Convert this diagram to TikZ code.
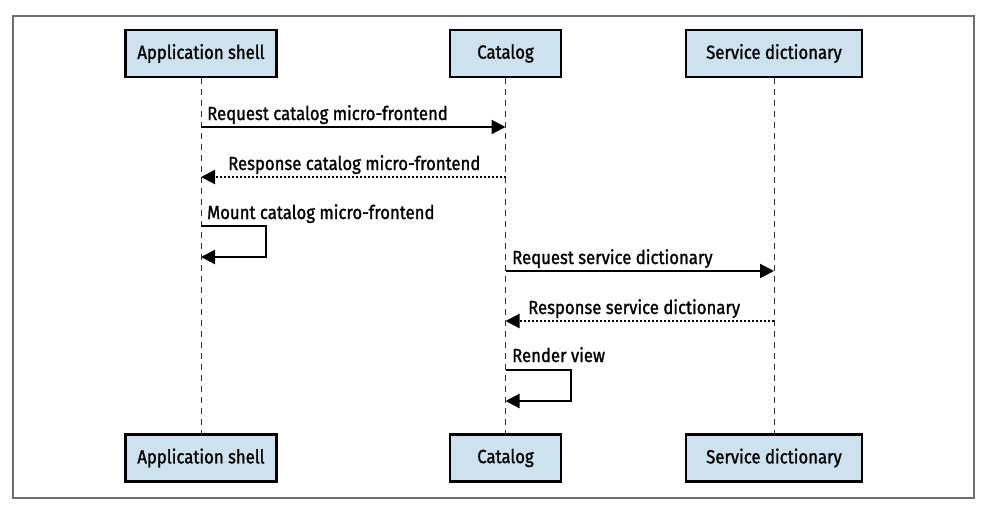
\documentclass[tikz,border=0pt]{standalone}
\usepackage{fontspec}
\setmainfont{Fira Sans}[FakeStretch=0.88,FakeBold=1.2]
\usetikzlibrary{arrows.meta}
\definecolor{boxfill}{RGB}{205,225,239}
\definecolor{framegray}{RGB}{110,110,110}
\begin{document}
\begin{tikzpicture}[x=1pt,y=-1pt,
  actor/.style={draw=black,line width=2.6pt,fill=boxfill,minimum height=47pt,inner sep=0pt,font=\fontsize{19}{22}\selectfont},
  life/.style={draw=black!80,line width=0.7pt,dash pattern=on 6pt off 5pt},
  msg/.style={line width=2.2pt,-{Triangle[length=14pt,width=14pt]}},
  reply/.style={line width=2.2pt,dash pattern=on 2pt off 2pt,-{Triangle[length=14pt,width=14pt]}},
  lbl/.style={anchor=base west,inner sep=0pt,font=\fontsize{19}{22}\selectfont}]
\useasboundingbox (0,0) rectangle (986,512);
\draw[framegray,line width=1.2pt] (13,16) rectangle (974,498);
% actors
\node[actor,minimum width=151pt] (a1) at (201,53.5) {Application shell};
\node[actor,minimum width=111pt] (c1) at (505.5,53.5) {Catalog};
\node[actor,minimum width=176pt] (s1) at (774,53.5) {Service dictionary};
\node[actor,minimum width=151pt] (a2) at (201,458) {Application shell};
\node[actor,minimum width=111pt] (c2) at (505.5,458) {Catalog};
\node[actor,minimum width=176pt] (s2) at (774,458) {Service dictionary};
% lifelines
\draw[life] (a1.south) -- (a2.north);
\draw[life] (c1.south) -- (c2.north);
\draw[life] (s1.south) -- (s2.north);
% message coordinates
\coordinate (m1a) at (a1.south |- 0,127);
\coordinate (m1c) at (c1.south |- 0,127);
\coordinate (m2c) at (c1.south |- 0,177);
\coordinate (m2a) at (a1.south |- 0,177);
\coordinate (m3a) at (a1.south |- 0,226);
\coordinate (m3b) at (a1.south |- 0,257);
\coordinate (m4c) at (c1.south |- 0,271);
\coordinate (m4s) at (s1.south |- 0,271);
\coordinate (m5s) at (s1.south |- 0,321);
\coordinate (m5c) at (c1.south |- 0,321);
\coordinate (m6a) at (c1.south |- 0,370);
\coordinate (m6b) at (c1.south |- 0,401);
% messages
\draw[msg] (m1a) -- (m1c);
\node[lbl] (t1) at (207,120) {Request catalog micro-frontend};
\draw[reply] (m2c) -- (m2a);
\node[lbl] (t2) at (228,170) {Response catalog micro-frontend};
\draw[msg] (m3a) -- ++(65,0) |- (m3b);
\node[lbl] (t3) at (207,219) {Mount catalog micro-frontend};
\draw[msg] (m4c) -- (m4s);
\node[lbl] (t4) at (512,264) {Request service dictionary};
\draw[reply] (m5s) -- (m5c);
\node[lbl] (t5) at (528,314) {Response service dictionary};
\draw[msg] (m6a) -- ++(65.5,0) |- (m6b);
\node[lbl] (t6) at (512,362) {Render view};
\end{tikzpicture}
\end{document}
